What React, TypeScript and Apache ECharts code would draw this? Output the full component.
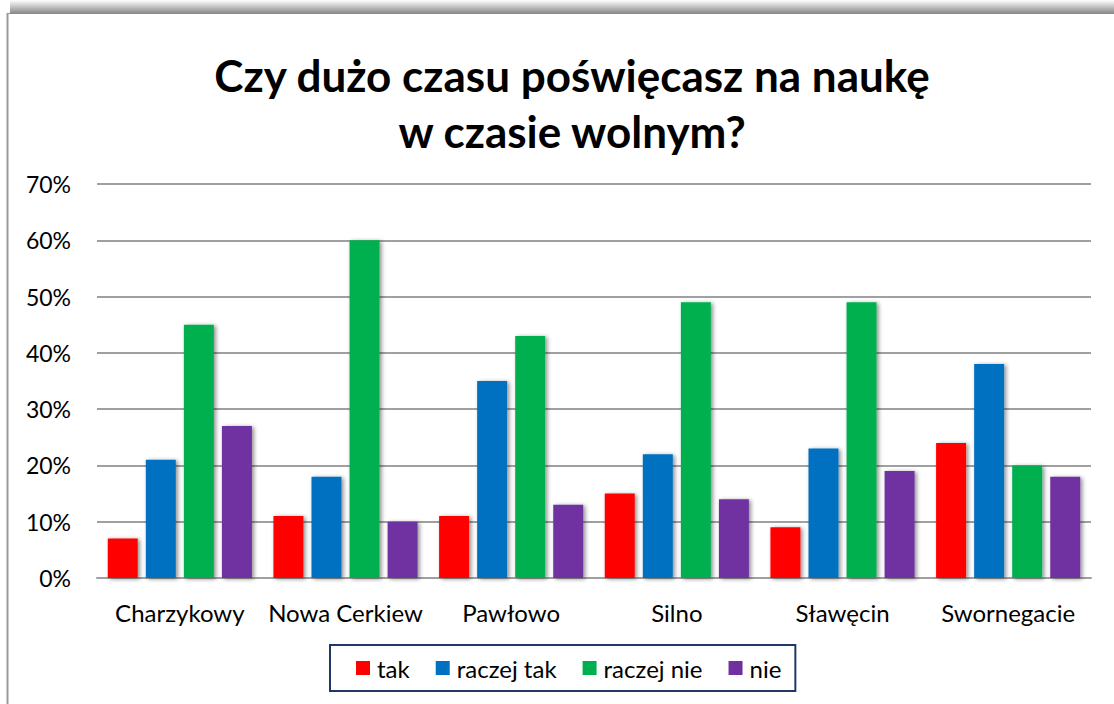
import React, { useEffect, useRef } from "react";
import * as echarts from "echarts";

const categories = ["Charzykowy", "Nowa Cerkiew", "Pawłowo", "Silno", "Sławęcin", "Swornegacie"];
const seriesNames = ["tak", "raczej tak", "raczej nie", "nie"];
const tak = [7, 11, 11, 15, 9, 24];
const raczejTak = [21, 18, 35, 22, 23, 38];
const raczejNie = [45, 60, 43, 49, 49, 20];
const nie = [27, 10, 13, 14, 19, 18];
const colors = ["#ff0000", "#0070c0", "#00b050", "#7030a0"];
const titleText = "Czy dużo czasu poświęcasz na naukę\nw czasie wolnym?";

const FONT = "Lato, 'Noto Sans', sans-serif";

export default function App() {
  const ref = useRef<HTMLDivElement>(null);
  useEffect(() => {
    if (!ref.current) return;
    const chart = echarts.init(ref.current, null, { renderer: "svg" });
    const data = [tak, raczejTak, raczejNie, nie];
    chart.setOption({
      animation: false,
      backgroundColor: "#ffffff",
      title: {
        text: titleText,
        left: 567,
        textAlign: "center",
        top: 42,
        textStyle: {
          fontFamily: FONT,
          fontSize: 44,
          fontWeight: "bold",
          color: "#000",
          lineHeight: 56,
        },
      },
      graphic: [
        {
          type: "rect",
          shape: { x: 10, y: 0, width: 1104, height: 13 },
          style: {
            fill: new echarts.graphic.LinearGradient(0, 0, 0, 1, [
              { offset: 0, color: "rgba(255,255,255,1)" },
              { offset: 1, color: "rgba(140,140,140,1)" },
            ]),
          },
          z: -1,
        },
        {
          type: "line",
          shape: { x1: 7, y1: 13.5, x2: 1114, y2: 13.5 },
          style: { stroke: "#8c8c8c", lineWidth: 1 },
        },
        {
          type: "line",
          shape: { x1: 7.5, y1: 13, x2: 7.5, y2: 704 },
          style: { stroke: "#999999", lineWidth: 2 },
        },
      ],
      legend: {
        data: seriesNames,
        left: 330,
        top: 645,
        itemWidth: 14,
        itemHeight: 14,
        itemGap: 26,
        padding: [11, 14, 11, 26],
        borderColor: "#1f3864",
        borderWidth: 2,
        icon: "rect",
        textStyle: { fontFamily: FONT, fontSize: 24, color: "#000", padding: [0, 0, 0, 2] },
      },
      grid: { left: 97, right: 23, top: 184, bottom: 126, containLabel: false },
      xAxis: {
        type: "category",
        data: categories,
        axisTick: { show: false },
        axisLine: { lineStyle: { color: "#a0a0a0", width: 2 } },
        axisLabel: { fontFamily: FONT, fontSize: 24, color: "#000", margin: 22, interval: 0 },
      },
      yAxis: {
        type: "value",
        min: 0,
        max: 70,
        interval: 10,
        axisLabel: { formatter: "{value}%", fontFamily: FONT, fontSize: 23, color: "#000", margin: 26 },
        splitLine: { lineStyle: { color: "#a0a0a0", width: 2 } },
        axisLine: { show: false },
        axisTick: { show: false },
      },
      series: seriesNames.map((name, i) => ({
        name,
        type: "bar",
        data: data[i],
        barGap: "27%",
        barCategoryGap: "13%",
        itemStyle: {
          color: colors[i],
          shadowBlur: 4,
          shadowOffsetX: 2,
          shadowOffsetY: 1,
          shadowColor: "rgba(0,0,0,0.45)",
        },
      })),
    });
    return () => chart.dispose();
  }, []);
  return (
    <div
      ref={ref}
      style={{ position: "fixed", left: 0, top: 0, width: 1114, height: 704 }}
    />
  );
}
